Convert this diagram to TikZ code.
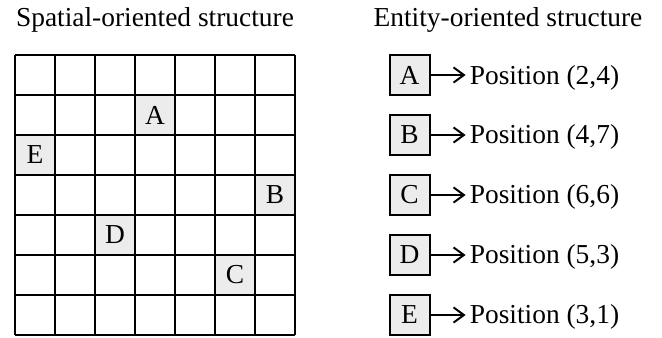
\documentclass[tikz,border=0pt]{standalone}
\usepackage{fontspec}
\setmainfont{Liberation Serif}
\usetikzlibrary{positioning, arrows.meta}

\begin{document}
\begin{tikzpicture}[line join=miter,
    font=\fontsize{19.5}{23}\selectfont,
    cellfill/.style={fill=gray!15, minimum size=1cm, inner sep=0pt},
    entitybox/.style={draw, fill=gray!15, line width=1.4pt, minimum size=1cm, inner sep=0pt},
    poslabel/.style={inner xsep=0.1cm, inner ysep=0pt},
    posarrow/.style={line width=1.4pt, -{Straight Barb[length=2.6mm, width=3.8mm, line width=1.4pt]}}]

  \useasboundingbox (0,0) rectangle (16.55,8.425);

  % titles
  \node[anchor=base] (titleSpatial) at (3.875,7.75) {Spatial-oriented structure};
  \node[anchor=base] (titleEntity) at (12.7,7.75) {Entity-oriented structure};

  % spatial grid, 7 x 7 cells
  \begin{scope}[shift={(0.375,0.05)}]
    \foreach \name/\row/\col in {A/2/4, B/4/7, C/6/6, D/5/3, E/3/1}
      \node[cellfill] (cell\name) at (\col-0.5, 7.5-\row) {\name};
    \draw[line width=1.4pt, step=1cm] (0,0) grid (7,7);
  \end{scope}

  % entity list
  \foreach \name/\row/\col [count=\i] in {A/2/4, B/4/7, C/6/6, D/5/3, E/3/1} {
    \node[entitybox] (box\name) at (10.24, 8.05-1.5*\i) {\name};
    \node[poslabel, base right=0.875cm of box\name] (pos\name) {Position (\row,\col)};
    \draw[posarrow] (box\name.east) -- (box\name.east -| pos\name.west);
  }
\end{tikzpicture}
\end{document}
